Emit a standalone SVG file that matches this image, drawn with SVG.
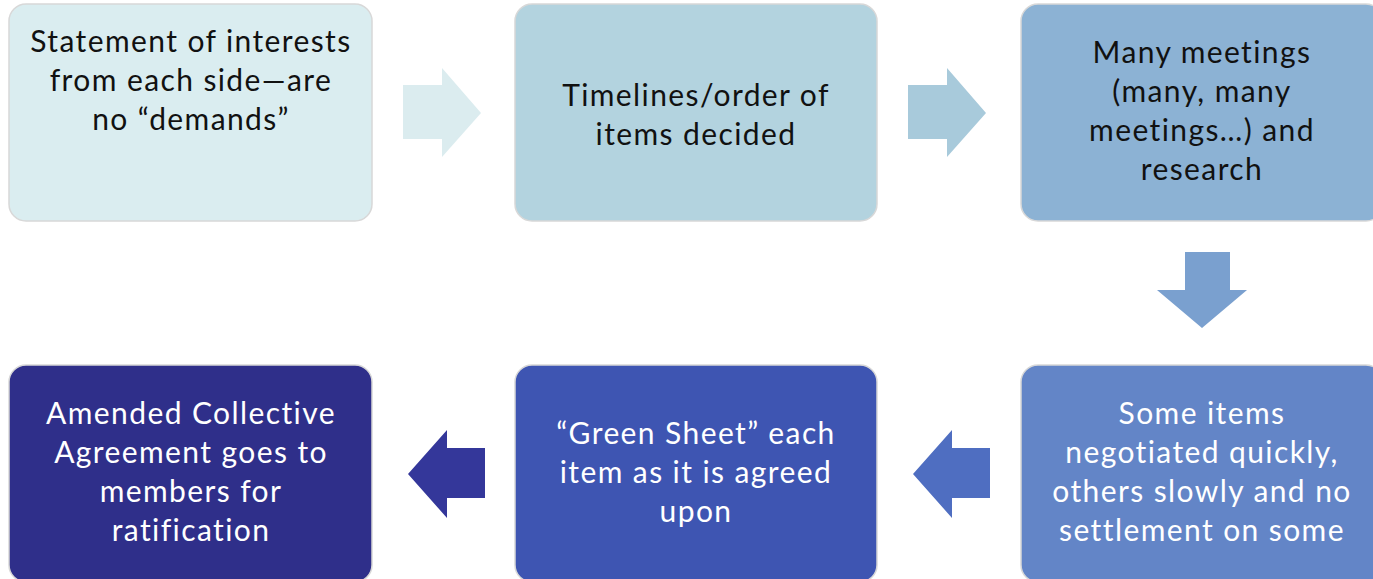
<svg xmlns="http://www.w3.org/2000/svg" width="1373" height="579" viewBox="0 0 1373 579">
<style>
.box{stroke:#d8d8d8;stroke-width:1.5}
.t{font-family:Lato,"Liberation Sans",sans-serif;font-size:30px;letter-spacing:1.4px;text-anchor:middle}
.dk{fill:#111111}
.lt{fill:#ffffff}
</style>
<rect width="1373" height="579" fill="#ffffff"/>
<g id="connectors">
<polygon points="403,85 442,85 442,68 481,113 442,157 442,139 403,139" fill="#dbecef"/>
<polygon points="908,85 947,85 947,68 986,113 947,157 947,139 908,139" fill="#a8cadb"/>
<polygon points="1185,252 1230,252 1230,290 1247,290 1202,328 1157,290 1185,290" fill="#7aa0cf"/>
<polygon points="990,448 952,448 952,430 913,474 952,518 952,498 990,498" fill="#4f6ec1"/>
<polygon points="485,448 447,448 447,430 408,474 447,518 447,498 485,498" fill="#34379a"/>
</g>
<g id="n1">
<rect class="box" x="9" y="4" width="363" height="217" rx="17" fill="#daedf0"/>
<text class="t dk" x="191" y="52">Statement of interests</text>
<text class="t dk" x="191" y="91">from each side—are</text>
<text class="t dk" x="191" y="130">no “demands”</text>
</g>
<g id="n2">
<rect class="box" x="515" y="4" width="362" height="217" rx="17" fill="#b3d3df"/>
<text class="t dk" x="696" y="106">Timelines/order of</text>
<text class="t dk" x="696" y="145">items decided</text>
</g>
<g id="n3">
<rect class="box" x="1021" y="4" width="362" height="217" rx="17" fill="#8cb2d4"/>
<text class="t dk" x="1202" y="63">Many meetings</text>
<text class="t dk" x="1202" y="102">(many, many</text>
<text class="t dk" x="1202" y="141">meetings…) and</text>
<text class="t dk" x="1202" y="180">research</text>
</g>
<g id="n4">
<rect class="box" x="1021" y="365" width="362" height="217" rx="17" fill="#6385c7"/>
<text class="t lt" x="1202" y="424">Some items</text>
<text class="t lt" x="1202" y="463">negotiated quickly,</text>
<text class="t lt" x="1202" y="502">others slowly and no</text>
<text class="t lt" x="1202" y="541">settlement on some</text>
</g>
<g id="n5">
<rect class="box" x="515" y="365" width="362" height="217" rx="17" fill="#3e55b2"/>
<text class="t lt" x="696" y="444">“Green Sheet” each</text>
<text class="t lt" x="696" y="483">item as it is agreed</text>
<text class="t lt" x="696" y="522">upon</text>
</g>
<g id="n6">
<rect class="box" x="9" y="365" width="363" height="217" rx="17" fill="#2f2f8a"/>
<text class="t lt" x="191" y="424">Amended Collective</text>
<text class="t lt" x="191" y="463">Agreement goes to</text>
<text class="t lt" x="191" y="502">members for</text>
<text class="t lt" x="191" y="541">ratification</text>
</g>
</svg>
